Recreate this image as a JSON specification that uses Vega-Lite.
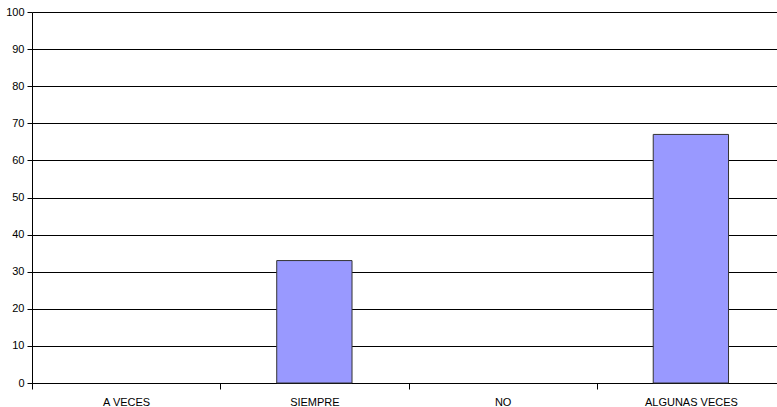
{
  "$schema": "https://vega.github.io/schema/vega-lite/v6.json",
  "width": 753,
  "height": 371,
  "autosize": {"type": "none"},
  "padding": {"left": 32, "top": 12, "right": 0, "bottom": 24},
  "background": "white",
  "data": {"values": [
    {"cat": "A VECES", "v": 0},
    {"cat": "SIEMPRE", "v": 33},
    {"cat": "NO", "v": 0},
    {"cat": "ALGUNAS VECES", "v": 67}
  ]},
  "mark": {"type": "bar", "fill": "#9999FF", "stroke": "#333333", "strokeWidth": 1, "width": {"band": 0.4}},
  "encoding": {
    "x": {"field": "cat", "type": "nominal", "sort": null,
      "scale": {"paddingInner": 0, "paddingOuter": 0},
      "axis": {"title": null, "labelAngle": 0, "tickBand": "extent", "tickSize": 6, "tickWidth": 1, "labelPadding": 7,
        "domainColor": "black", "tickColor": "black", "labelColor": "black",
        "labelFont": "Liberation Sans", "labelFontSize": 11, "grid": false}},
    "y": {"field": "v", "type": "quantitative",
      "scale": {"domain": [0, 100], "nice": false},
      "axis": {"title": null, "values": [0,10,20,30,40,50,60,70,80,90,100], "tickSize": 5, "labelPadding": 3,
        "domainColor": "black", "tickColor": "black", "labelColor": "black", "gridColor": "black", "gridOpacity": 1,
        "labelFont": "Liberation Sans", "labelFontSize": 11}},
    "strokeOpacity": {"condition": {"test": "datum.v > 0", "value": 1}, "value": 0}
  },
  "config": {"view": {"stroke": null}}
}
